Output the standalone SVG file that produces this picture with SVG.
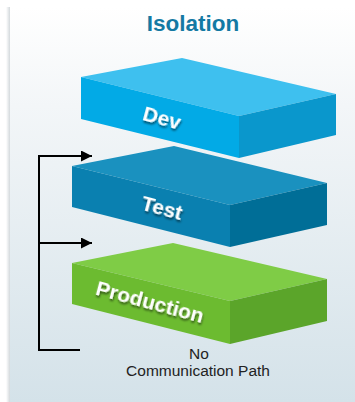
<svg xmlns="http://www.w3.org/2000/svg" width="355" height="402" viewBox="0 0 355 402">
<defs>
<linearGradient id="bg" x1="0" y1="0" x2="0" y2="1">
<stop offset="0" stop-color="#ffffff"/>
<stop offset="0.25" stop-color="#f3f6f8"/>
<stop offset="1" stop-color="#d4e2e9"/>
</linearGradient>
<linearGradient id="edge" x1="0" y1="0" x2="1" y2="0">
<stop offset="0" stop-color="#ffffff"/>
<stop offset="1" stop-color="#c8cfd3"/>
</linearGradient>
<filter id="sh" x="-20%" y="-20%" width="140%" height="160%">
<feDropShadow dx="1" dy="2" stdDeviation="1.2" flood-color="#000" flood-opacity="0.55"/>
</filter>
<marker id="ah" viewBox="0 0 10 10" refX="10" refY="5" markerWidth="11" markerHeight="11" markerUnits="userSpaceOnUse" orient="auto">
<path d="M0,0 L10,5 L0,10 z" fill="#000"/>
</marker>
</defs>
<style>
.lbl{font-family:"Liberation Sans",Arial,sans-serif;font-weight:bold;font-size:21px;fill:#fff;text-anchor:middle;filter:url(#sh)}
.cap{font-family:"Liberation Sans",Arial,sans-serif;font-size:15.5px;fill:#222;text-anchor:middle}
.title{font-family:"Liberation Sans",Arial,sans-serif;font-weight:bold;font-size:22.5px;fill:#1479a3;text-anchor:middle}
.conn{fill:none;stroke:#000;stroke-width:2}
</style>
<rect x="0" y="0" width="355" height="402" fill="#ffffff"/>
<rect x="6" y="7" width="5" height="395" fill="url(#edge)"/>
<rect x="10" y="7" width="345" height="395" fill="url(#bg)"/>
<text class="title" x="193" y="31">Isolation</text>
<g id="dev">
<polygon points="81,77 182,58 336,94 239,116" fill="#3ec0ef"/>
<polygon points="81,77 239,116 239,158 81,119" fill="#02aae6"/>
<polygon points="239,116 336,94 336,135 239,158" fill="#0a97cc"/>
<text class="lbl" x="162" y="125" transform="rotate(15 162 118)">Dev</text>
</g>
<g id="test">
<polygon points="72,166 174,146 327,183 230,205" fill="#1a91bf"/>
<polygon points="72,166 230,205 230,247 72,207" fill="#0a80b0"/>
<polygon points="230,205 327,183 327,225 230,247" fill="#006e97"/>
<text class="lbl" x="162" y="215" transform="rotate(15 162 208)">Test</text>
</g>
<g id="production">
<polygon points="72,263 173,243 327,279 230,301" fill="#7fcc46"/>
<polygon points="72,263 230,301 230,344 72,304" fill="#6cbb30"/>
<polygon points="230,301 327,279 327,321 230,344" fill="#5ba52a"/>
<text class="lbl" x="150" y="309" transform="rotate(15 150 302)">Production</text>
</g>
<g id="connectors">
<polyline class="conn" points="80,350 39,350 39,156 92,156" marker-end="url(#ah)"/>
<line class="conn" x1="39" y1="243" x2="92" y2="243" marker-end="url(#ah)"/>
</g>
<g id="caption">
<text class="cap" x="199" y="359">No</text>
<text class="cap" x="198" y="376">Communication Path</text>
</g>
</svg>
